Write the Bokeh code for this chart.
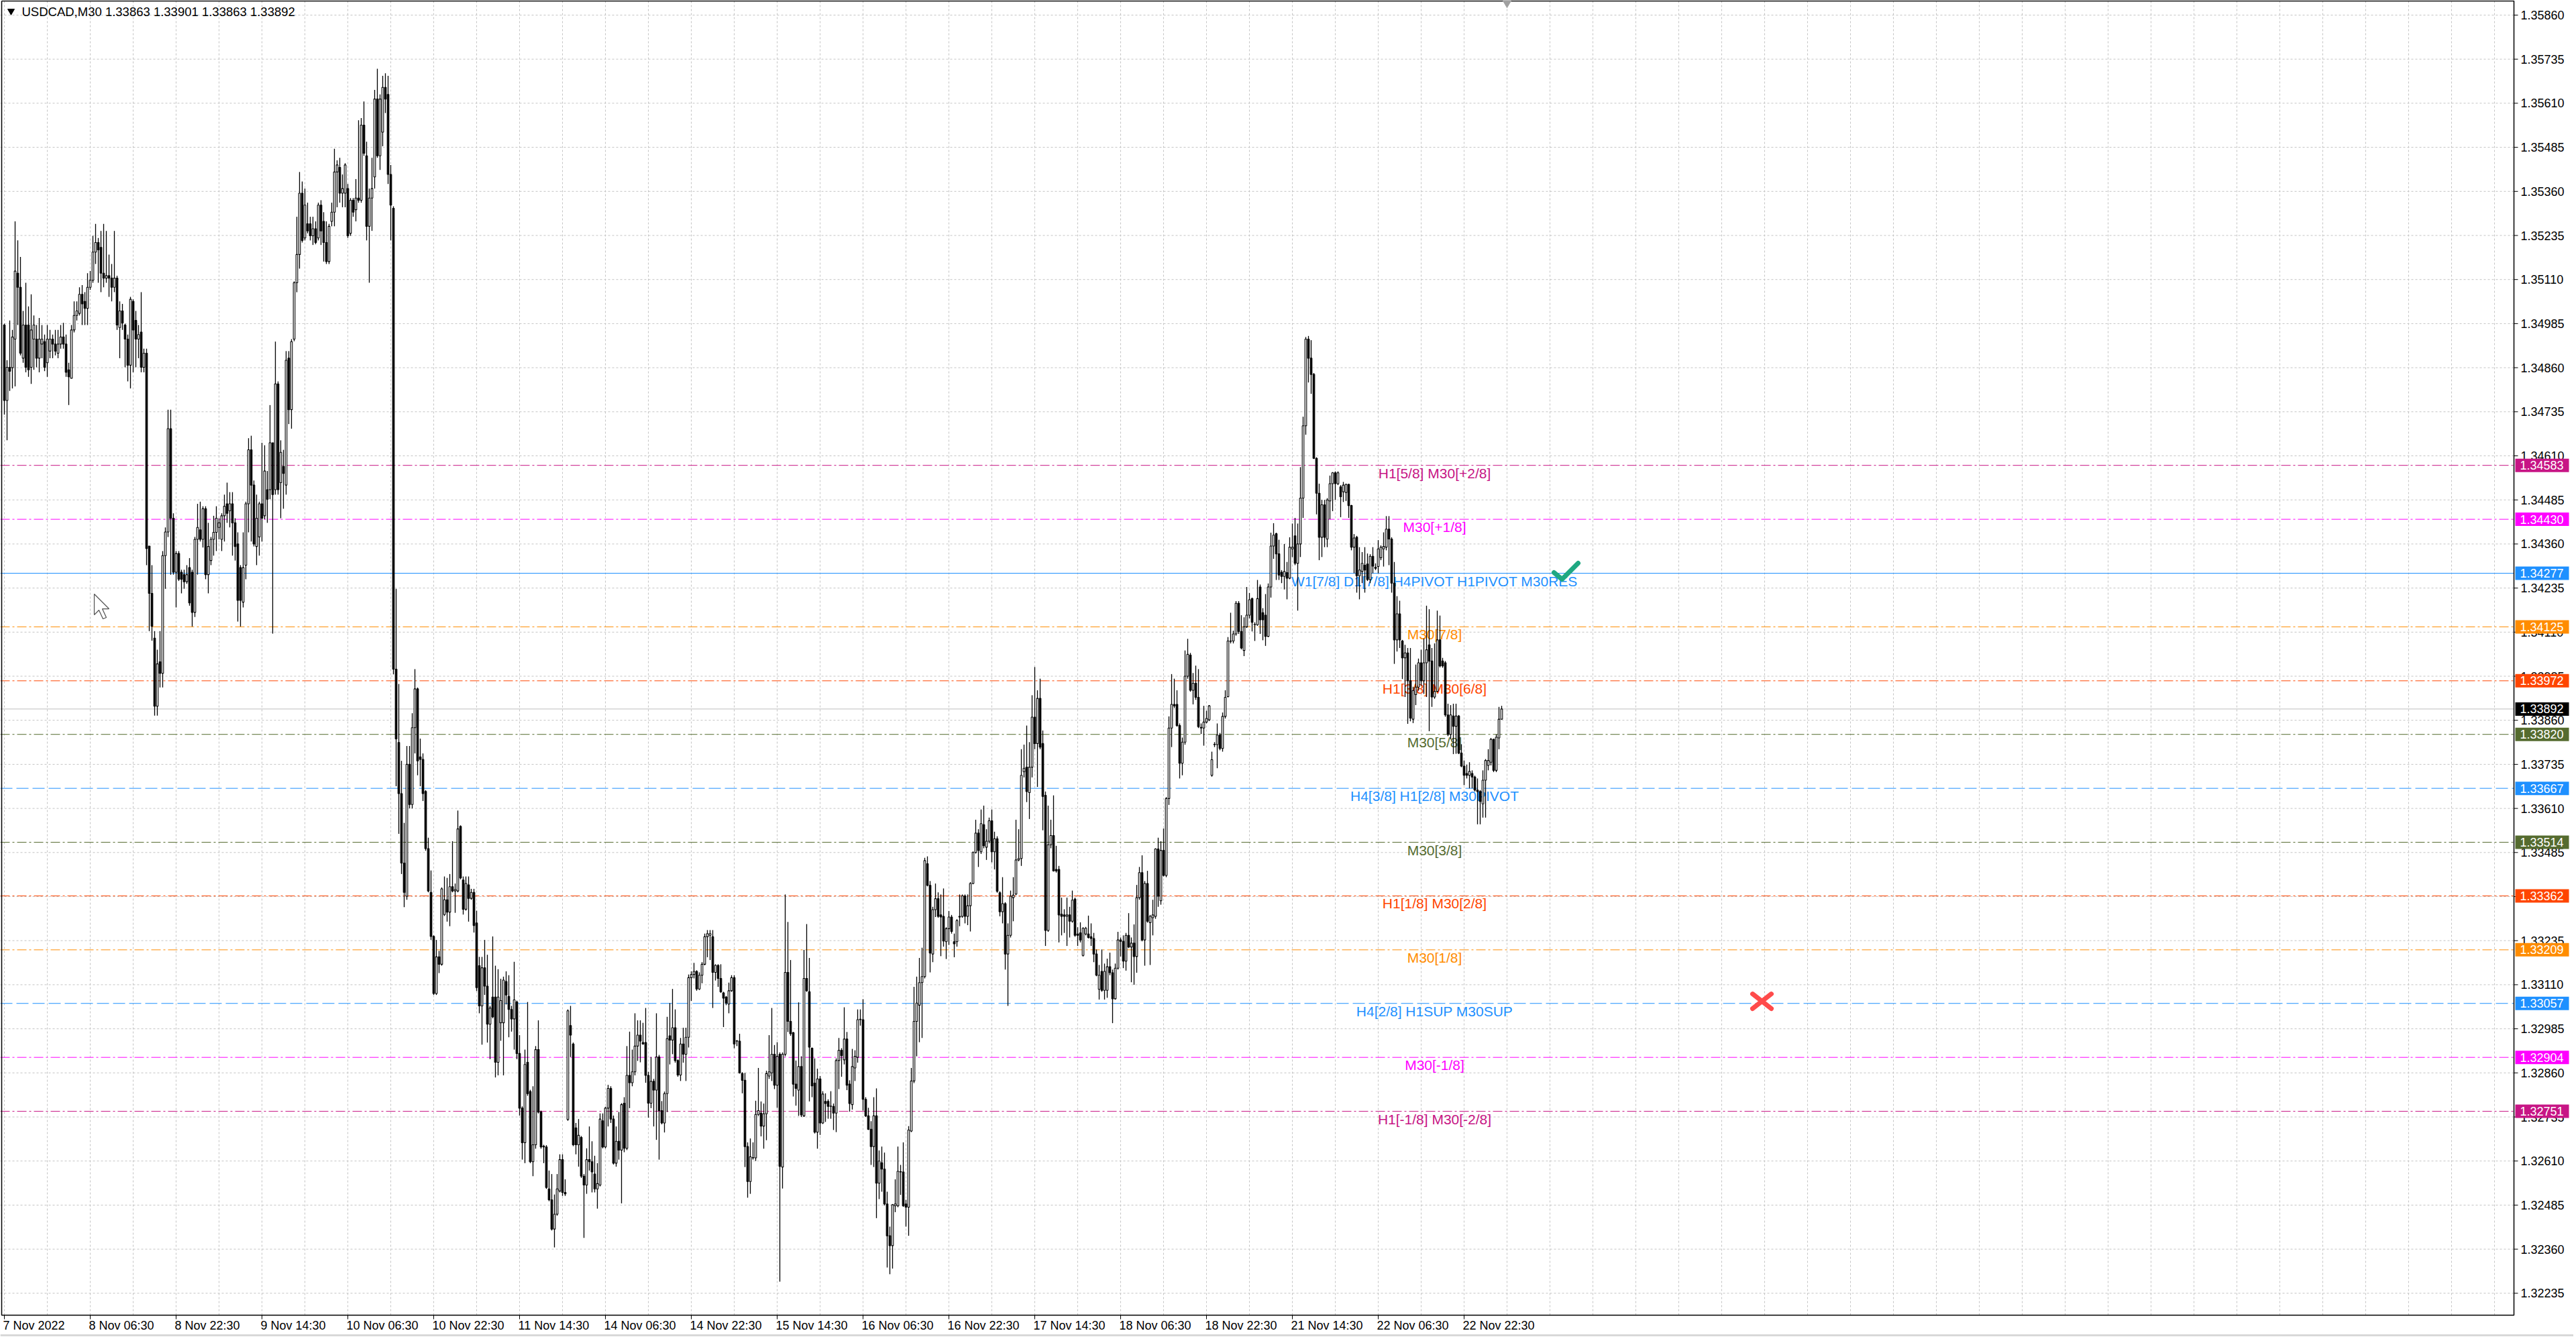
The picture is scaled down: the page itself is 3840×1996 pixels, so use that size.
from bokeh.plotting import figure
from bokeh.models import ColumnDataSource, Range1d
from bokeh.core.properties import value
from bokeh.embed import file_html
from bokeh.resources import INLINE

SYMBOL = "USDCAD,M30"
BASE = 1.3   # prices below are stored in points (1e-5) above 1.30000

# M30 candles, 7 Nov 2022 14:30 .. 23 Nov 2022 05:30
opens_pt = [
    4981, 4767, 4861, 4860, 4941, 5128, 5088, 4887, 4981, 4981, 4861, 4941, 4941, 4887, 4927, 4934,
    4874, 4907, 4941, 4927, 4901, 4927, 4947, 4927, 4854, 4830, 4967, 5008, 5014, 5068, 5048, 5028,
    5088, 5108, 5188, 5215, 5201, 5128, 5114, 5121, 5114, 5088, 5114, 4974, 5021, 4981, 4941, 4867,
    5048, 4994, 4941, 4961, 4861, 4901, 4354, 4220, 4093, 3900, 4026, 3993, 4327, 4394, 4687, 4433,
    4280, 4333, 4280, 4273, 4253, 4293, 4280, 4166, 4373, 4400, 4373, 4460, 4273, 4313, 4373, 4393,
    4407, 4373, 4440, 4474, 4454, 4474, 4420, 4360, 4293, 4195, 4300, 4474, 4627, 4527, 4353, 4380,
    4474, 4440, 4514, 4514, 4647, 4514, 4814, 4534, 4580, 4527, 4887, 4741, 4941, 5101, 5181, 5355,
    5228, 5268, 5268, 5234, 5254, 5228, 5321, 5275, 5215, 5161, 5275, 5301, 5415, 5428, 5355, 5355,
    5368, 5241, 5335, 5308, 5341, 5335, 5548, 5461, 5261, 5341, 5401, 5622, 5461, 5528, 5655, 5635,
    5408, 5312, 4005, 3797, 3652, 3455, 3361, 3735, 3621, 3839, 3949, 3756, 3749, 3658, 3496, 3372,
    3247, 3085, 3189, 3168, 3309, 3351, 3316, 3388, 3376, 3376, 3559, 3407, 3324, 3393, 3355, 3372,
    3285, 3164, 3050, 3158, 3106, 2998, 3075, 3075, 2890, 3002, 3002, 3119, 3077, 3040, 3013, 3061,
    2915, 2760, 2662, 2890, 2807, 2608, 2656, 2926, 2749, 2650, 2650, 2531, 2500, 2417, 2459, 2525,
    2614, 2521, 2728, 2994, 2942, 2704, 2656, 2677, 2567, 2542, 2614, 2608, 2573, 2531, 2542, 2724,
    2650, 2760, 2816, 2729, 2604, 2666, 2641, 2774, 2646, 2853, 2832, 2863, 2936, 2967, 2946, 2946,
    2853, 2774, 2836, 2811, 2905, 2753, 2718, 2801, 2965, 2953, 2988, 2895, 2854, 2942, 2913, 2961,
    3130, 3139, 3148, 3098, 3137, 3168, 3246, 3250, 3246, 3145, 3165, 3128, 3087, 3075, 3055, 3093,
    3130, 2950, 2950, 2858, 2839, 2651, 2552, 2619, 2619, 2742, 2746, 2709, 2744, 2851, 2860, 2913,
    2825, 2913, 2593, 2913, 3145, 3006, 2974, 2828, 2811, 2878, 2738, 3128, 3090, 2930, 2831, 2692,
    2843, 2718, 2779, 2779, 2765, 2765, 2746, 2895, 2924, 2897, 2956, 2828, 2770, 2874, 2904, 3011,
    3011, 2785, 2738, 2700, 2651, 2738, 2547, 2605, 2587, 2488, 2398, 2370, 2483, 2483, 2579, 2579,
    2488, 2479, 2695, 2837, 3006, 3052, 3116, 3133, 3453, 3392, 3197, 3323, 3354, 3308, 3304, 3232,
    3269, 3302, 3232, 3232, 3302, 3304, 3362, 3304, 3334, 3397, 3485, 3540, 3487, 3564, 3500, 3517,
    3575, 3487, 3524, 3371, 3317, 3340, 3197, 3250, 3357, 3367, 3464, 3468, 3714, 3727, 3655, 3727,
    3869, 3794, 3922, 3794, 3647, 3264, 3507, 3533, 3437, 3437, 3310, 3308, 3304, 3308, 3290, 3353,
    3254, 3257, 3193, 3254, 3254, 3246, 3241, 3197, 3097, 3148, 3094, 3094, 3161, 3144, 3070, 3157,
    3237, 3233, 3177, 3250, 3217, 3228, 3190, 3357, 3428, 3237, 3397, 3286, 3300, 3304, 3495, 3348,
    3491, 3420, 3638, 3838, 3905, 3905, 3845, 3738, 3798, 3985, 4045, 3945, 3965, 3925, 3838, 3838,
    3855, 3861, 3704, 3791, 3791, 3818, 3780, 3871, 3927, 4085, 4085, 4105, 4192, 4112, 4058, 4125,
    4158, 4205, 4131, 4131, 4238, 4165, 4158, 4098, 4238, 4354, 4389, 4332, 4280, 4268, 4279, 4263,
    4346, 4383, 4305, 4360, 4490, 4695, 4941, 4887, 4841, 4603, 4504, 4379, 4471, 4374, 4482, 4531,
    4562, 4531, 4522, 4508, 4506, 4529, 4469, 4351, 4379, 4270, 4282, 4300, 4303, 4259, 4325, 4294,
    4296, 4321, 4346, 4351, 4402, 4374, 4249, 4088, 4162, 4085, 4037, 4051, 3972, 3863, 3933, 3954,
    4023, 3972, 4023, 4074, 4028, 3926, 3942, 4088, 4028, 4023, 3875, 3820, 3872, 3843, 3872, 3767,
    3730, 3709, 3704, 3709, 3699, 3662, 3658, 3623, 3690, 3732, 3741, 3806, 3718, 3810, 3863,
]
highs_pt = [
    4985, 4881, 4994, 4967, 5275, 5221, 5174, 5021, 5101, 5034, 5068, 5008, 4981, 5001, 4981, 4954,
    4981, 4967, 4954, 4967, 4967, 4981, 4987, 4954, 4874, 4981, 5048, 5048, 5088, 5094, 5074, 5128,
    5134, 5234, 5268, 5228, 5248, 5268, 5248, 5181, 5154, 5248, 5121, 5048, 5041, 4985, 4954, 5061,
    5054, 5021, 4981, 5074, 4914, 4914, 4354, 4300, 4113, 4060, 4113, 4340, 4407, 4741, 4741, 4447,
    4340, 4340, 4287, 4287, 4300, 4320, 4287, 4380, 4474, 4480, 4467, 4467, 4420, 4380, 4440, 4467,
    4433, 4447, 4500, 4534, 4507, 4507, 4433, 4393, 4300, 4393, 4480, 4660, 4667, 4540, 4500, 4480,
    4647, 4640, 4567, 4754, 4647, 4934, 4821, 4654, 4627, 4907, 4907, 4941, 5105, 5288, 5415, 5388,
    5368, 5328, 5288, 5288, 5275, 5328, 5335, 5301, 5275, 5268, 5328, 5481, 5448, 5455, 5408, 5440,
    5381, 5341, 5341, 5395, 5562, 5568, 5615, 5501, 5368, 5455, 5648, 5708, 5635, 5688, 5695, 5688,
    5435, 5318, 4233, 3963, 3745, 3569, 3787, 3787, 3880, 4005, 3953, 3808, 3766, 3662, 3527, 3434,
    3250, 3237, 3206, 3386, 3417, 3413, 3424, 3517, 3397, 3604, 3562, 3417, 3417, 3417, 3382, 3382,
    3320, 3189, 3189, 3237, 3195, 3050, 3247, 3164, 3154, 3127, 3133, 3148, 3137, 3050, 3175, 3065,
    2967, 2765, 2926, 3061, 2812, 2822, 2936, 3009, 2753, 2656, 2655, 2583, 2573, 2515, 2573, 2629,
    2629, 2558, 3040, 3050, 2946, 2718, 2729, 2681, 2573, 2646, 2708, 2666, 2625, 2604, 2745, 2745,
    2764, 2826, 2822, 2739, 2708, 2749, 2774, 2791, 2936, 2977, 2926, 3029, 3009, 3009, 3002, 3044,
    2863, 2905, 2843, 3029, 2911, 2780, 2807, 3019, 3058, 3098, 3040, 2898, 2959, 2988, 2988, 3139,
    3148, 3172, 3151, 3145, 3174, 3255, 3265, 3265, 3265, 3168, 3168, 3168, 3090, 3078, 3116, 3137,
    3137, 2953, 2971, 2862, 2860, 2663, 2674, 2663, 2781, 2874, 2779, 2773, 2866, 2967, 3044, 2939,
    2947, 2918, 2918, 3366, 3288, 3180, 2976, 2895, 3060, 2907, 3209, 3282, 3186, 2932, 2901, 2872,
    2851, 2808, 2802, 2785, 2808, 2773, 2901, 2959, 2930, 3046, 2976, 2839, 2928, 2924, 3040, 3040,
    3069, 2791, 2761, 2723, 2791, 2816, 2640, 2651, 2634, 2523, 2424, 2488, 2558, 2651, 2599, 2663,
    2500, 2709, 2874, 3104, 3133, 3186, 3215, 3470, 3474, 3404, 3331, 3397, 3372, 3366, 3383, 3273,
    3319, 3308, 3255, 3296, 3366, 3366, 3366, 3366, 3401, 3488, 3578, 3551, 3607, 3618, 3551, 3584,
    3607, 3544, 3531, 3375, 3415, 3344, 3284, 3377, 3415, 3578, 3551, 3778, 3791, 3845, 3798, 3931,
    4011, 3945, 3978, 3831, 3658, 3618, 3578, 3647, 3504, 3447, 3357, 3324, 3357, 3331, 3377, 3357,
    3273, 3287, 3273, 3274, 3306, 3284, 3257, 3210, 3166, 3210, 3170, 3184, 3201, 3153, 3170, 3260,
    3244, 3250, 3257, 3313, 3244, 3281, 3393, 3444, 3477, 3404, 3433, 3308, 3351, 3497, 3527, 3517,
    3553, 3642, 3871, 3991, 3978, 3945, 3851, 3811, 4058, 4091, 4051, 3994, 4015, 4005, 3851, 3901,
    3887, 3903, 3771, 3798, 3851, 3824, 3882, 3945, 4096, 4165, 4114, 4198, 4198, 4158, 4152, 4238,
    4221, 4208, 4138, 4258, 4245, 4178, 4218, 4248, 4392, 4419, 4392, 4372, 4286, 4360, 4309, 4379,
    4418, 4434, 4418, 4578, 4721, 4947, 4950, 4938, 4845, 4606, 4531, 4485, 4485, 4490, 4554, 4564,
    4566, 4566, 4527, 4536, 4531, 4531, 4471, 4388, 4383, 4351, 4337, 4351, 4333, 4331, 4351, 4305,
    4371, 4356, 4393, 4439, 4439, 4379, 4309, 4212, 4199, 4088, 4074, 4065, 4065, 3955, 4018, 4035,
    4060, 4092, 4185, 4175, 4065, 4078, 4171, 4157, 4037, 4028, 3907, 3903, 3907, 3907, 3875, 3792,
    3746, 3734, 3741, 3718, 3703, 3695, 3662, 3718, 3750, 3778, 3810, 3808, 3820, 3898, 3901,
]
lows_pt = [
    4727, 4654, 4794, 4801, 4807, 4981, 4895, 4874, 4847, 4834, 4814, 4854, 4861, 4847, 4887, 4850,
    4834, 4887, 4887, 4895, 4887, 4914, 4914, 4834, 4754, 4830, 4960, 4994, 5008, 4981, 4981, 4981,
    5081, 5101, 5154, 5101, 5074, 5088, 5101, 5061, 5048, 5074, 4967, 4887, 4967, 4861, 4821, 4801,
    4847, 4861, 4887, 4847, 4847, 4300, 4113, 4086, 3873, 3873, 3953, 3953, 4233, 4380, 4273, 4273,
    4180, 4255, 4220, 4233, 4247, 4185, 4126, 4153, 4273, 4367, 4350, 4260, 4220, 4300, 4327, 4340,
    4373, 4340, 4367, 4420, 4407, 4327, 4313, 4140, 4126, 4180, 4260, 4393, 4367, 4353, 4300, 4327,
    4367, 4430, 4420, 4487, 4106, 4500, 4500, 4433, 4460, 4500, 4700, 4687, 4935, 5074, 5141, 5215,
    5221, 5241, 5221, 5208, 5210, 5221, 5208, 5161, 5154, 5154, 5261, 5261, 5315, 5328, 5315, 5315,
    5228, 5234, 5288, 5275, 5328, 5328, 5461, 5221, 5101, 5248, 5368, 5455, 5421, 5488, 5582, 5381,
    5221, 3990, 3673, 3538, 3424, 3330, 3351, 3610, 3610, 3766, 3704, 3673, 3631, 3490, 3372, 3237,
    3081, 3081, 3143, 3164, 3305, 3289, 3276, 3372, 3314, 3372, 3409, 3309, 3320, 3289, 3351, 3258,
    3092, 3029, 2940, 3081, 2946, 2899, 3015, 2847, 2853, 2951, 2853, 3054, 2961, 2977, 2926, 2899,
    2739, 2614, 2604, 2795, 2604, 2567, 2645, 2745, 2645, 2604, 2531, 2496, 2413, 2365, 2455, 2521,
    2511, 2511, 2724, 2905, 2652, 2629, 2594, 2562, 2392, 2517, 2583, 2521, 2521, 2475, 2538, 2646,
    2646, 2708, 2718, 2600, 2594, 2614, 2490, 2635, 2641, 2760, 2822, 2853, 2894, 2890, 2940, 2832,
    2733, 2760, 2708, 2670, 2614, 2714, 2691, 2749, 2884, 2913, 2889, 2849, 2837, 2889, 2837, 2932,
    3064, 3128, 3093, 3095, 3114, 3165, 3188, 3180, 3044, 3122, 3104, 3087, 2990, 3052, 3029, 3090,
    2930, 2936, 2858, 2802, 2593, 2506, 2517, 2614, 2610, 2738, 2680, 2645, 2669, 2843, 2837, 2814,
    2761, 2268, 2532, 2907, 2976, 2965, 2793, 2767, 2738, 2735, 2735, 3090, 2779, 2791, 2688, 2645,
    2684, 2715, 2721, 2730, 2730, 2698, 2692, 2814, 2849, 2884, 2811, 2750, 2756, 2837, 2889, 2994,
    2753, 2735, 2698, 2599, 2593, 2448, 2502, 2523, 2484, 2308, 2289, 2305, 2465, 2479, 2514, 2480,
    2424, 2398, 2692, 2831, 2907, 2947, 2959, 3128, 3389, 3145, 3174, 3302, 3300, 3191, 3218, 3183,
    3223, 3255, 3188, 3218, 3276, 3300, 3284, 3279, 3261, 3395, 3482, 3444, 3481, 3497, 3464, 3511,
    3457, 3437, 3371, 3304, 3284, 3153, 3050, 3244, 3290, 3364, 3460, 3447, 3698, 3628, 3580, 3698,
    3778, 3671, 3778, 3548, 3220, 3260, 3497, 3431, 3428, 3230, 3250, 3257, 3220, 3244, 3286, 3246,
    3220, 3230, 3190, 3250, 3241, 3220, 3174, 3134, 3068, 3090, 3068, 3073, 3137, 3001, 3068, 3153,
    3190, 3157, 3150, 3214, 3117, 3110, 3144, 3351, 3233, 3164, 3286, 3166, 3250, 3297, 3331, 3337,
    3417, 3415, 3620, 3784, 3895, 3842, 3695, 3704, 3791, 3978, 3941, 3905, 3918, 3838, 3821, 3788,
    3851, 3858, 3700, 3784, 3724, 3775, 3771, 3865, 3925, 4078, 4078, 4100, 4105, 4061, 4042, 4122,
    4149, 4112, 4085, 4128, 4105, 4087, 4071, 4096, 4208, 4318, 4258, 4258, 4249, 4231, 4203, 4260,
    4323, 4300, 4171, 4323, 4434, 4670, 4818, 4786, 4601, 4444, 4314, 4323, 4351, 4351, 4430, 4453,
    4485, 4527, 4436, 4479, 4482, 4434, 4342, 4277, 4222, 4203, 4249, 4222, 4255, 4249, 4277, 4286,
    4277, 4314, 4296, 4342, 4300, 4222, 4020, 4055, 4065, 3977, 3926, 3850, 3857, 3852, 3903, 3944,
    3958, 3935, 3926, 3829, 3898, 3921, 3940, 4010, 4009, 3870, 3815, 3806, 3764, 3765, 3764, 3727,
    3676, 3695, 3667, 3667, 3658, 3565, 3565, 3584, 3584, 3718, 3732, 3713, 3713, 3778, 3863,
]
closes_pt = [
    4767, 4861, 4850, 4947, 5134, 5088, 4901, 4981, 4861, 4854, 4967, 4981, 4887, 4941, 4941, 4861,
    4941, 4941, 4927, 4907, 4927, 4947, 4927, 4847, 4834, 4967, 5008, 5021, 5068, 5041, 5028, 5088,
    5108, 5188, 5215, 5194, 5128, 5114, 5121, 5114, 5088, 5114, 4981, 5021, 4987, 4941, 4867, 5054,
    4967, 4941, 4954, 4861, 4901, 4347, 4220, 4127, 3900, 4020, 3993, 4327, 4394, 4687, 4433, 4280,
    4333, 4260, 4260, 4253, 4273, 4193, 4166, 4373, 4407, 4373, 4460, 4273, 4353, 4373, 4393, 4433,
    4420, 4440, 4467, 4447, 4474, 4420, 4353, 4200, 4200, 4293, 4474, 4627, 4527, 4360, 4433, 4474,
    4433, 4567, 4487, 4647, 4500, 4814, 4514, 4620, 4560, 4881, 4741, 4934, 5101, 5181, 5355, 5221,
    5321, 5248, 5234, 5254, 5215, 5321, 5248, 5215, 5161, 5261, 5301, 5415, 5435, 5355, 5368, 5435,
    5234, 5335, 5301, 5341, 5335, 5548, 5468, 5261, 5341, 5368, 5622, 5461, 5622, 5655, 5622, 5408,
    5321, 4005, 3807, 3652, 3455, 3372, 3735, 3621, 3839, 3949, 3745, 3749, 3652, 3496, 3376, 3247,
    3085, 3189, 3168, 3382, 3351, 3316, 3388, 3376, 3380, 3552, 3413, 3324, 3397, 3355, 3372, 3278,
    3102, 3050, 3158, 3106, 2998, 3044, 3019, 2890, 3075, 3065, 3123, 3081, 3040, 3013, 3067, 2915,
    2760, 2662, 2884, 2801, 2608, 2656, 2926, 2749, 2650, 2652, 2535, 2500, 2417, 2459, 2531, 2614,
    2521, 2517, 3036, 2967, 2656, 2656, 2683, 2567, 2542, 2614, 2608, 2579, 2531, 2546, 2729, 2650,
    2760, 2816, 2729, 2604, 2666, 2641, 2770, 2646, 2853, 2832, 2863, 2936, 2967, 2950, 2942, 2853,
    2774, 2836, 2811, 2905, 2753, 2718, 2801, 2957, 2953, 2988, 2895, 2854, 2942, 2913, 2961, 3130,
    3139, 3148, 3098, 3137, 3168, 3246, 3255, 3255, 3145, 3165, 3128, 3090, 3072, 3058, 3093, 3130,
    2942, 2951, 2860, 2839, 2651, 2552, 2622, 2620, 2742, 2753, 2709, 2744, 2858, 2863, 2913, 2825,
    2907, 2595, 2913, 3145, 3006, 2971, 2828, 2816, 2878, 2741, 3128, 3093, 2933, 2823, 2692, 2843,
    2718, 2800, 2773, 2765, 2766, 2746, 2895, 2924, 2909, 2956, 2825, 2773, 2878, 2907, 3011, 3012,
    2785, 2738, 2700, 2651, 2738, 2547, 2610, 2587, 2488, 2398, 2370, 2486, 2488, 2581, 2580, 2483,
    2479, 2698, 2837, 3006, 3058, 3116, 3133, 3462, 3392, 3200, 3323, 3354, 3304, 3302, 3234, 3269,
    3302, 3261, 3226, 3292, 3304, 3362, 3304, 3334, 3397, 3485, 3540, 3491, 3567, 3504, 3517, 3575,
    3487, 3524, 3375, 3317, 3340, 3197, 3250, 3361, 3364, 3464, 3468, 3704, 3724, 3658, 3727, 3869,
    3794, 3922, 3784, 3644, 3264, 3507, 3533, 3433, 3433, 3308, 3304, 3304, 3308, 3290, 3350, 3250,
    3250, 3237, 3270, 3270, 3244, 3241, 3197, 3137, 3137, 3094, 3148, 3161, 3144, 3070, 3157, 3237,
    3233, 3177, 3250, 3217, 3228, 3190, 3357, 3428, 3237, 3397, 3290, 3304, 3308, 3495, 3361, 3491,
    3420, 3638, 3838, 3905, 3901, 3845, 3738, 3798, 3985, 4047, 3945, 3965, 3925, 3842, 3840, 3855,
    3865, 3901, 3748, 3792, 3818, 3780, 3871, 3925, 4085, 4084, 4105, 4192, 4112, 4065, 4125, 4158,
    4202, 4138, 4132, 4205, 4145, 4145, 4098, 4238, 4354, 4385, 4332, 4272, 4268, 4282, 4263, 4351,
    4351, 4305, 4360, 4490, 4695, 4941, 4887, 4841, 4603, 4504, 4379, 4471, 4379, 4485, 4531, 4562,
    4531, 4562, 4494, 4527, 4529, 4469, 4351, 4377, 4270, 4286, 4305, 4286, 4259, 4325, 4297, 4291,
    4346, 4351, 4353, 4402, 4374, 4249, 4088, 4162, 4088, 4037, 4051, 3972, 3866, 3944, 3954, 4023,
    3972, 4023, 4060, 4028, 3926, 3942, 4088, 4014, 4014, 3875, 3820, 3875, 3843, 3872, 3767, 3730,
    3704, 3704, 3715, 3699, 3662, 3658, 3630, 3690, 3746, 3746, 3806, 3718, 3812, 3863, 3892,
]

# Bottom scale labels, one every 32 bars
x_label_bars = [0, 32, 64, 96, 128, 160, 192, 224, 256, 288, 320, 352, 384, 416, 448, 480, 512, 544]
x_labels = ["7 Nov 2022", "8 Nov 06:30", "8 Nov 22:30", "9 Nov 14:30", "10 Nov 06:30", "10 Nov 22:30",
            "11 Nov 14:30", "14 Nov 06:30", "14 Nov 22:30", "15 Nov 14:30", "16 Nov 06:30",
            "16 Nov 22:30", "17 Nov 14:30", "18 Nov 06:30", "18 Nov 22:30", "21 Nov 14:30",
            "22 Nov 06:30", "22 Nov 22:30"]

# Right scale price ticks
y_ticks = [1.32235, 1.32360, 1.32485, 1.32610, 1.32735, 1.32860, 1.32985, 1.33110, 1.33235, 1.33360,
           1.33485, 1.33610, 1.33735, 1.33860, 1.33985, 1.34110, 1.34235, 1.34360, 1.34485, 1.34610,
           1.34735, 1.34860, 1.34985, 1.35110, 1.35235, 1.35360, 1.35485, 1.35610, 1.35735, 1.35860]

# Murrey math levels drawn by the indicator
levels = [1.34583, 1.34430, 1.34277, 1.34125, 1.33972, 1.33820, 1.33667,
          1.33514, 1.33362, 1.33209, 1.33057, 1.32904, 1.32751]
level_names = ["H1[5/8] M30[+2/8]", "M30[+1/8]", "W1[7/8] D1[7/8] H4PIVOT H1PIVOT M30RES", "M30[7/8]",
               "H1[3/8] M30[6/8]", "M30[5/8]", "H4[3/8] H1[2/8] M30PIVOT", "M30[3/8]",
               "H1[1/8] M30[2/8]", "M30[1/8]", "H4[2/8] H1SUP M30SUP", "M30[-1/8]", "H1[-1/8] M30[-2/8]"]
level_colors = ["#C71585", "#FF00FF", "#1E90FF", "#FF8C00", "#FF4500", "#556B2F", "#1E90FF",
                "#556B2F", "#FF4500", "#FF8C00", "#1E90FF", "#FF00FF", "#C71585"]
level_styles = ["dashdot", "dashdot", "solid", "dashdot", "dashdot", "dashdot", "dashed",
                "dashdot", "dashdot", "dashdot", "dashed", "dashdot", "dashdot"]
level_label_bar = 533

# signal arrows (bar index, price)
buy_signal_x, buy_signal_y = [580.5], [1.34260]
sell_signal_x, sell_signal_y = [655], [1.33063]

# mouse pointer left on the chart (bar index, price of its tip)
cursor_x, cursor_y = 33.5, 1.34218

# ---- layout: canvas = whole window, 4 px per bar, 52560 px per price unit ----
W, H = 3836, 1992
PX_PER_PRICE = 52560.0
BAR_PX = 4.0
X_START = -1.5                       # bar i sits at 6 + 4*i px
X_END = X_START + W / BAR_PX
Y_TOP = 1.35860 + 22 / PX_PER_PRICE  # 1.35860 sits 22 px below the top
Y_BOTTOM = Y_TOP - H / PX_PER_PRICE
X_AXIS = X_START + 3747 / BAR_PX     # right price scale line
Y_AXIS = Y_TOP - 1960 / PX_PER_PRICE # bottom time scale line
FONT = "Liberation Sans"


def px_x(n_px):
    return n_px / BAR_PX


def px_y(n_px):
    return n_px / PX_PER_PRICE


n = len(closes_pt)
bars = list(range(n))
o = [BASE + v / 1e5 for v in opens_pt]
h = [BASE + v / 1e5 for v in highs_pt]
l = [BASE + v / 1e5 for v in lows_pt]
c = [BASE + v / 1e5 for v in closes_pt]

candles = ColumnDataSource(dict(
    x=bars, high=h, low=l,
    top=[max(a, b) for a, b in zip(o, c)],
    bottom=[min(a, b) for a, b in zip(o, c)],
    fill=["white" if b >= a else "black" for a, b in zip(o, c)],
))

p = figure(width=W, height=H, x_range=Range1d(X_START, X_END), y_range=Range1d(Y_BOTTOM, Y_TOP),
           x_axis_location=None, y_axis_location=None, toolbar_location=None, tools="",
           output_backend="svg", min_border=0)
p.background_fill_color = "white"
p.border_fill_color = "white"
p.outline_line_color = None
p.grid.visible = False

# dotted grid inside the chart area
vgrid = list(range(0, int(X_AXIS) + 1, 16))
p.segment(x0=vgrid, x1=vgrid, y0=[Y_AXIS] * len(vgrid), y1=[Y_TOP] * len(vgrid),
          line_color="#C4C4C4", line_width=1, line_dash="3 3")
p.segment(x0=[X_START] * len(y_ticks), x1=[X_AXIS] * len(y_ticks), y0=y_ticks, y1=y_ticks,
          line_color="#C4C4C4", line_width=1, line_dash="3 3")

# level lines, behind the candles
dash_map = {"solid": "solid", "dashed": "18 6", "dashdot": "14 4 3 4"}
for lv, col, st in zip(levels, level_colors, level_styles):
    p.line(x=[X_START, X_AXIS], y=[lv, lv], line_color=col, line_width=1, line_dash=dash_map[st])
p.line(x=[X_START, X_AXIS], y=[c[-1], c[-1]], line_color="#BDBDBD", line_width=1)

lvl_src = ColumnDataSource(dict(x=[level_label_bar] * len(levels), y=levels,
                                text=level_names, color=level_colors))
p.text(x="x", y="y", text="text", text_color="color", source=lvl_src,
       text_align="center", text_baseline="top", text_font=value(FONT),
       text_font_size=value("21px"))

# candles
p.segment(x0="x", y0="high", x1="x", y1="low", source=candles, line_color="black", line_width=1.3)
p.vbar(x="x", width=0.65, top="top", bottom="bottom", fill_color="fill", line_color="black",
       line_width=1.1, source=candles)

# signals: check mark and cross
for bx, by in zip(buy_signal_x, buy_signal_y):
    p.line(x=[bx - px_x(12), bx, bx + px_x(24)], y=[by + px_y(10), by, by + px_y(24)],
           line_color="#1FA882", line_width=7, line_cap="round", line_join="round")
for sx, sy in zip(sell_signal_x, sell_signal_y):
    dx, dy = px_x(14), px_y(11)
    p.segment(x0=[sx - dx, sx - dx], y0=[sy - dy, sy + dy], x1=[sx + dx, sx + dx],
              y1=[sy + dy, sy - dy], line_color="#FF4B4B", line_width=7, line_cap="round")

# mouse pointer (arrow outline)
arrow_dx = [0, 0, 7, 13, 18, 12, 22, 0]
arrow_dy = [0, 31, 24, 37, 35, 22, 22, 0]
p.patch(x=[cursor_x + px_x(d) for d in arrow_dx], y=[cursor_y - px_y(d) for d in arrow_dy],
        fill_color="white", line_color="#505050", line_width=1.2)

# chart frame with price and time scales
p.line(x=[X_START + px_x(2), X_AXIS, X_AXIS, X_START + px_x(2), X_START + px_x(2)],
       y=[Y_TOP - px_y(1), Y_TOP - px_y(1), Y_AXIS, Y_AXIS, Y_TOP - px_y(1)],
       line_color="black", line_width=1.5)
p.segment(x0=[X_AXIS] * len(y_ticks), x1=[X_AXIS + px_x(6)] * len(y_ticks), y0=y_ticks, y1=y_ticks,
          line_color="black", line_width=1)
p.text(x=[X_AXIS + px_x(10)] * len(y_ticks), y=y_ticks, text=[f"{t:.5f}" for t in y_ticks],
       text_align="left", text_baseline="middle", text_font=value(FONT),
       text_font_size=value("18px"), text_color="black")
p.segment(x0=x_label_bars, x1=x_label_bars, y0=[Y_AXIS] * len(x_label_bars),
          y1=[Y_AXIS - px_y(6)] * len(x_label_bars), line_color="black", line_width=1)
p.text(x=[b - px_x(2) for b in x_label_bars], y=[Y_AXIS - px_y(5)] * len(x_label_bars),
       text=x_labels, text_align="left", text_baseline="top", text_font=value(FONT),
       text_font_size=value("18px"), text_color="black")
# window edge under the time scale
p.line(x=[X_START, X_END], y=[Y_BOTTOM + px_y(2), Y_BOTTOM + px_y(2)], line_color="#D8D8D8",
       line_width=3)

# price boxes on the right scale
box_prices = levels + [c[-1]]
box_colors = level_colors + ["black"]
p.quad(left=X_AXIS + px_x(2), right=X_AXIS + px_x(82),
       top=[v + px_y(10) for v in box_prices], bottom=[v - px_y(10) for v in box_prices],
       fill_color=box_colors, line_color=None)
p.text(x=[X_AXIS + px_x(9)] * len(box_prices), y=box_prices, text=[f"{v:.5f}" for v in box_prices],
       text_align="left", text_baseline="middle", text_font=value(FONT),
       text_font_size=value("18px"), text_color="white")

# header
title = f"{SYMBOL} {o[-1]:.5f} {h[-1]:.5f} {l[-1]:.5f} {c[-1]:.5f}"
p.text(x=[X_START + px_x(32)], y=[Y_TOP - px_y(17)], text=[title],
       text_align="left", text_baseline="middle", text_font=value(FONT),
       text_font_size=value("18.5px"), text_color="black")
p.scatter(x=[X_START + px_x(16)], y=[Y_TOP - px_y(16)], marker="inverted_triangle",
          size=10, color="black")
p.scatter(x=[n + 1], y=[Y_TOP - px_y(3)], marker="inverted_triangle", size=14, color="#A0A0A0")

open("out.html", "w").write(file_html(p, INLINE))
